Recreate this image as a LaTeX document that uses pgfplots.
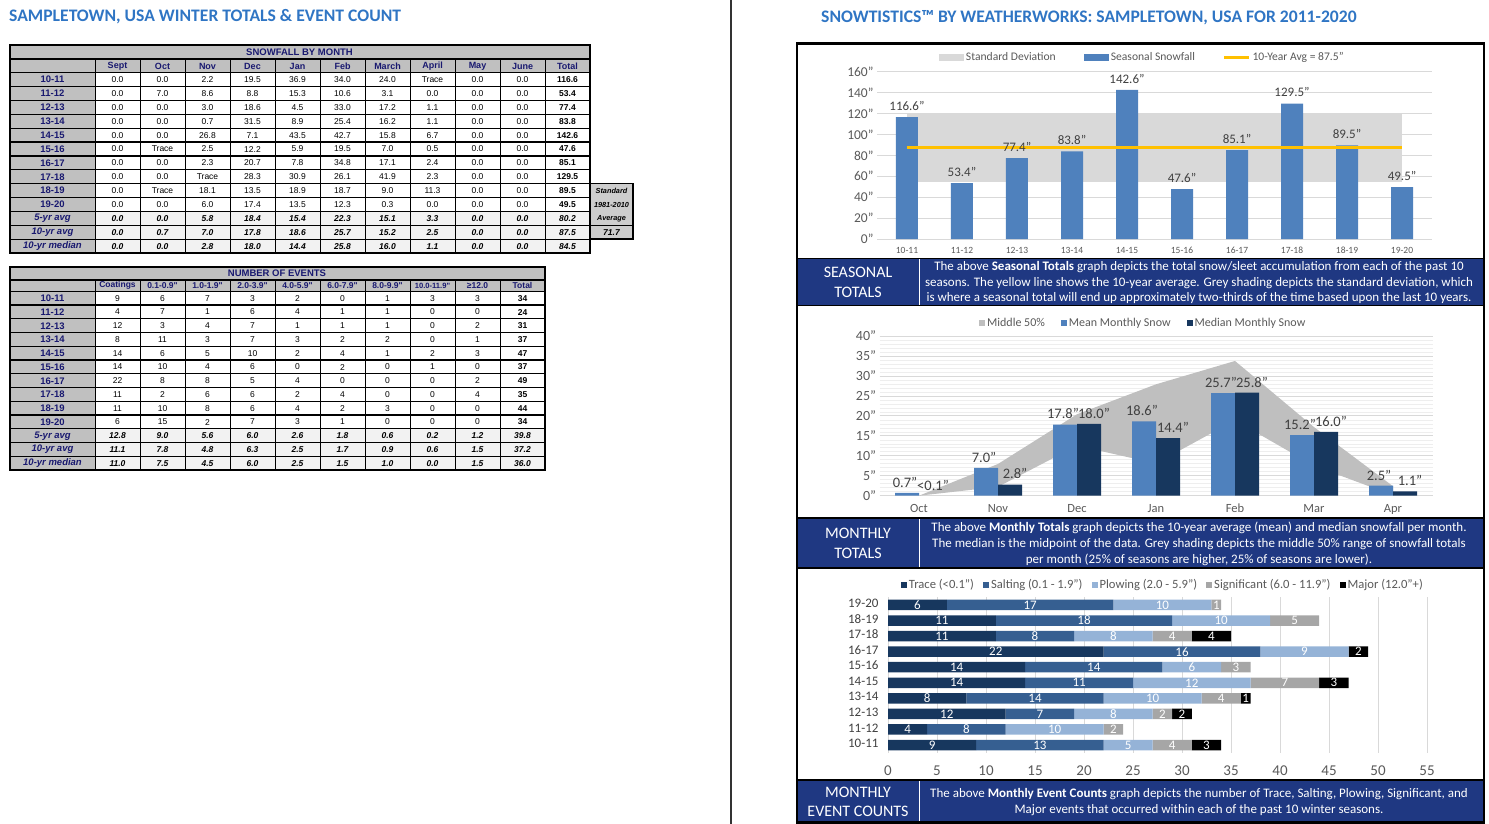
\documentclass[border=0pt]{standalone}
\usepackage{pgfplots}
\pgfplotsset{compat=1.18}
\usepackage{pgfplotstable}
\usepackage{fontspec}
\setmainfont{Carlito}
\newfontfamily\tabfont{Liberation Sans}
\pgfkeys{/pgf/number format/assume math mode=true}

\definecolor{navyt}{RGB}{25,25,112}
\definecolor{lblgray}{RGB}{192,192,192}
\definecolor{sumgray}{RGB}{242,242,242}
\definecolor{stdbox}{RGB}{205,205,205}
\definecolor{titleblue}{RGB}{47,117,196}
\definecolor{barblue}{RGB}{79,129,189}
\definecolor{medblue}{RGB}{23,55,94}
\definecolor{saltblue}{RGB}{54,95,145}
\definecolor{plowblue}{RGB}{149,179,215}
\definecolor{siggray}{RGB}{166,166,166}
\definecolor{bandgray}{RGB}{217,217,217}
\definecolor{areagray}{RGB}{191,191,191}
\definecolor{avgyellow}{RGB}{255,192,0}
\definecolor{gridc}{RGB}{217,217,217}
\definecolor{tickc}{RGB}{89,89,89}
\definecolor{labc}{RGB}{64,64,64}
\definecolor{banner}{RGB}{31,56,130}

\newcommand{\fsz}[1]{\fontsize{#1}{#1}\selectfont}

\pgfplotstableread{
i season total
0 10-11 116.6
1 11-12 53.4
2 12-13 77.4
3 13-14 83.8
4 14-15 142.6
5 15-16 47.6
6 16-17 85.1
7 17-18 129.5
8 18-19 89.5
9 19-20 49.5
}\seasontable

\pgfplotstableread{
i month mean median
0 Oct 0.7 0
1 Nov 7.0 2.8
2 Dec 17.8 18.0
3 Jan 18.6 14.4
4 Feb 25.7 25.8
5 Mar 15.2 16.0
6 Apr 2.5 1.1
}\monthtable

\pgfplotstableread{
i season trace salting plowing significant major
0 10-11 9 13 5 4 3
1 11-12 4 8 10 2 0
2 12-13 12 7 8 2 2
3 13-14 8 14 10 4 1
4 14-15 14 11 12 7 3
5 15-16 14 14 6 3 0
6 16-17 22 16 9 0 2
7 17-18 11 8 8 4 4
8 18-19 11 18 10 5 0
9 19-20 6 17 10 1 0
}\eventtable

\pgfplotsset{
  typeset ticklabels with strut,
  sq/.style={legend image code/.code={\fill[#1] (0pt,-3pt) rectangle (6pt,3pt);}},
  wide/.style={legend image code/.code={\fill[#1] (0pt,-3.5pt) rectangle (25pt,3.5pt);}},
  seglab/.style={draw=none, mark=none, point meta=explicit symbolic,
    nodes near coords={\ifnum\pgfplotspointmeta>0 \pgfplotspointmeta\fi},
    nodes near coords style={anchor=center, inner sep=0pt, text=white, font=\fsz{13}}},
}

\begin{document}
\begin{tikzpicture}
\path[use as bounding box] (0pt,0pt) rectangle (1489pt,-824pt);

\begin{scope}[x=1pt,y=-1pt]
% ---------- titles and divider
\node[anchor=west, inner sep=0pt, text=titleblue, font=\bfseries\fsz{17.6}] at (9,17) {SAMPLETOWN, USA WINTER TOTALS \& EVENT COUNT};
\node[anchor=west, inner sep=0pt, text=titleblue, font=\bfseries\fsz{17.6}] at (821,18) {SNOWTISTICS™ BY WEATHERWORKS: SAMPLETOWN, USA FOR 2011-2020};
\draw[line width=1.5pt, black!80] (731,0) -- (731,824);

% ---------- table 1
\fill[lblgray] (10,45) rectangle (590,72.7);
\node[inner sep=0pt, text=navyt, font=\tabfont\bfseries\fsz{9.5}] at (299.5,52) {SNOWFALL BY MONTH};
\foreach \h [count=\k from 0] in {Sept,Oct,Nov,Dec,Jan,Feb,March,April,May,June,Total}
  \node[inner sep=0pt, text=navyt, font=\tabfont\bfseries\fsz{9}] at ({117.5+45*\k},66) {\h};
\foreach \lab/\vals [count=\r from 0] in {
 10-11/{0.0,0.0,2.2,19.5,36.9,34.0,24.0,Trace,0.0,0.0,116.6},
 11-12/{0.0,7.0,8.6,8.8,15.3,10.6,3.1,0.0,0.0,0.0,53.4},
 12-13/{0.0,0.0,3.0,18.6,4.5,33.0,17.2,1.1,0.0,0.0,77.4},
 13-14/{0.0,0.0,0.7,31.5,8.9,25.4,16.2,1.1,0.0,0.0,83.8},
 14-15/{0.0,0.0,26.8,7.1,43.5,42.7,15.8,6.7,0.0,0.0,142.6},
 15-16/{0.0,Trace,2.5,12.2,5.9,19.5,7.0,0.5,0.0,0.0,47.6},
 16-17/{0.0,0.0,2.3,20.7,7.8,34.8,17.1,2.4,0.0,0.0,85.1},
 17-18/{0.0,0.0,Trace,28.3,30.9,26.1,41.9,2.3,0.0,0.0,129.5},
 18-19/{0.0,Trace,18.1,13.5,18.9,18.7,9.0,11.3,0.0,0.0,89.5},
 19-20/{0.0,0.0,6.0,17.4,13.5,12.3,0.3,0.0,0.0,0.0,49.5},
 5-yr avg/{0.0,0.0,5.8,18.4,15.4,22.3,15.1,3.3,0.0,0.0,80.2},
 10-yr avg/{0.0,0.7,7.0,17.8,18.6,25.7,15.2,2.5,0.0,0.0,87.5},
 10-yr median/{0.0,0.0,2.8,18.0,14.4,25.8,16.0,1.1,0.0,0.0,84.5}}
{
  \pgfmathsetmacro{\yt}{72.7+13.87*\r}
  \ifnum\r<10 \def\bg{white}\def\fs{}\else\def\bg{sumgray}\def\fs{\bfseries\itshape}\fi
  \fill[lblgray] (10,\yt) rectangle (95,\yt+13.87);
  \fill[\bg] (95,\yt) rectangle (590,\yt+13.87);
  \node[inner sep=0pt, text=navyt, font=\tabfont\bfseries\fsz{9.5}] at (52.5,\yt+7) {\fs\lab};
  \foreach \v [count=\c from 0] in \vals {
    \node[inner sep=0pt, font=\tabfont\fsz{8.5}] at ({117.5+45*\c},\yt+7) {\fs\ifnum\c=10 \bfseries\fi\v};
  }
}
\foreach \k in {0,...,13} \draw[line width=1.2pt] (10,{72.7+13.87*\k}) -- (590,{72.7+13.87*\k});
\draw[line width=1.2pt] (10,59) -- (590,59);
\foreach \xx in {95,140,...,545} \draw[line width=0.8pt] (\xx,59) -- (\xx,253);
\draw[line width=1.6pt] (10,45) rectangle (590,253);
% standard box
\fill[stdbox] (590,183.66) rectangle (633,239.14);
\draw[line width=1pt] (590,225.27) -- (633,225.27);
\draw[line width=1.4pt] (590,183.66) rectangle (633,239.14);
\node[inner sep=0pt, font=\tabfont\bfseries\itshape\fsz{7.3}] at (611.5,190.6) {Standard};
\node[inner sep=0pt, font=\tabfont\bfseries\itshape\fsz{7.3}] at (611.5,204.5) {1981-2010};
\node[inner sep=0pt, font=\tabfont\bfseries\itshape\fsz{7.3}] at (611.5,218.4) {Average};
\node[inner sep=0pt, font=\tabfont\bfseries\itshape\fsz{8.5}] at (611.5,232.2) {71.7};

% ---------- table 2
\fill[lblgray] (10,267) rectangle (545,291.3);
\node[inner sep=0pt, text=navyt, font=\tabfont\bfseries\fsz{9.5}] at (277,273.5) {NUMBER OF EVENTS};
\foreach \h [count=\k from 0] in {Coatings,0.1-0.9",1.0-1.9",2.0-3.9",4.0-5.9",6.0-7.9",8.0-9.9",{\fsz{7.6}10.0-11.9"},≥12.0,Total}
  \node[inner sep=0pt, text=navyt, font=\tabfont\bfseries\fsz{8.5}] at ({117.5+45*\k},285.6) {\h};
\foreach \lab/\vals [count=\r from 0] in {
 10-11/{9,6,7,3,2,0,1,3,3,34},
 11-12/{4,7,1,6,4,1,1,0,0,24},
 12-13/{12,3,4,7,1,1,1,0,2,31},
 13-14/{8,11,3,7,3,2,2,0,1,37},
 14-15/{14,6,5,10,2,4,1,2,3,47},
 15-16/{14,10,4,6,0,2,0,1,0,37},
 16-17/{22,8,8,5,4,0,0,0,2,49},
 17-18/{11,2,6,6,2,4,0,0,4,35},
 18-19/{11,10,8,6,4,2,3,0,0,44},
 19-20/{6,15,2,7,3,1,0,0,0,34},
 5-yr avg/{12.8,9.0,5.6,6.0,2.6,1.8,0.6,0.2,1.2,39.8},
 10-yr avg/{11.1,7.8,4.8,6.3,2.5,1.7,0.9,0.6,1.5,37.2},
 10-yr median/{11.0,7.5,4.5,6.0,2.5,1.5,1.0,0.0,1.5,36.0}}
{
  \pgfmathsetmacro{\yt}{291.3+13.75*\r}
  \ifnum\r<10 \def\bg{white}\def\fs{}\else\def\bg{sumgray}\def\fs{\bfseries\itshape}\fi
  \fill[lblgray] (10,\yt) rectangle (95,\yt+13.75);
  \fill[\bg] (95,\yt) rectangle (545,\yt+13.75);
  \node[inner sep=0pt, text=navyt, font=\tabfont\bfseries\fsz{9.5}] at (52.5,\yt+7) {\fs\lab};
  \foreach \v [count=\c from 0] in \vals {
    \node[inner sep=0pt, font=\tabfont\fsz{8.5}] at ({117.5+45*\c},\yt+7) {\fs\ifnum\c=9 \bfseries\fi\v};
  }
}
\foreach \k in {0,...,13} \draw[line width=1.2pt] (10,{291.3+13.75*\k}) -- (545,{291.3+13.75*\k});
\draw[line width=1.2pt] (10,280) -- (545,280);
\foreach \xx in {95,140,...,500} \draw[line width=0.8pt] (\xx,280) -- (\xx,470);
\draw[line width=1.6pt] (10,267) rectangle (545,470);

% ---------- right panel banners
\fill[banner] (798,258.5) rectangle (1483,305.5);
\fill[banner] (798,518) rectangle (1483,568);
\fill[banner] (798,780) rectangle (1483,822);
\foreach \a/\b in {258.5/305.5,518/568,780/822} {
  \draw[white, line width=1.5pt] (919.5,\a) -- (919.5,\b);
  \draw[black, line width=1.3pt] (797,\a) -- (1484,\a);
  \draw[black, line width=1.3pt] (797,\b) -- (1484,\b);
}
\node[text=white, inner sep=0pt, align=center, font=\fontsize{16}{20}\selectfont] at (858,282) {SEASONAL\\TOTALS};
\node[text=white, inner sep=0pt, align=center, font=\fontsize{16}{20}\selectfont] at (858,543.5) {MONTHLY\\TOTALS};
\node[text=white, inner sep=0pt, align=center, font=\fontsize{16}{19}\selectfont] at (858,801.5) {MONTHLY\\EVENT COUNTS};
\node[text=white, inner sep=0pt, align=center, font=\fontsize{13}{15.5}\selectfont] at (1199,282.5)
 {The above \textbf{Seasonal Totals} graph depicts the total snow/sleet accumulation from each of the past 10\\
  seasons. The yellow line shows the 10-year average. Grey shading depicts the standard deviation, which\\
  is where a seasonal total will end up approximately two-thirds of the time based upon the last 10 years.};
\node[text=white, inner sep=0pt, align=center, font=\fontsize{13}{15.8}\selectfont] at (1199,544)
 {The above \textbf{Monthly Totals} graph depicts the 10-year average (mean) and median snowfall per month.\\
  The median is the midpoint of the data. Grey shading depicts the middle 50\% range of snowfall totals\\
  per month (25\% of seasons are higher, 25\% of seasons are lower).};
\node[text=white, inner sep=0pt, align=center, font=\fontsize{13}{16}\selectfont] at (1199,802)
 {The above \textbf{Monthly Event Counts} graph depicts the number of Trace, Salting, Plowing, Significant, and\\
  Major events that occurred within each of the past 10 winter seasons.};
\draw[line width=2.5pt] (797,43.5) rectangle (1484,822.5);
\end{scope}

% ---------- chart 1: seasonal totals
\begin{axis}[
 at={(877pt,-239pt)}, anchor=south west, scale only axis,
 width=555pt, height=167.3pt,
 xmin=-0.545, xmax=9.545, ymin=0, ymax=160,
 ytick={0,20,...,160}, yticklabel={\pgfmathprintnumber{\tick}"},
 xtick={0,...,9}, xticklabels from table={\seasontable}{season},
 axis line style={draw=none}, major tick length=0pt,
 ymajorgrids, grid style={gridc, line width=0.75pt},
 yticklabel style={font=\fsz{13.5}, text=tickc},
 xticklabel style={font=\fsz{9.5}, text=tickc, yshift=-4pt},
 clip=false, legend columns=-1,
 legend style={at={(0.478,1)}, anchor=south, yshift=5pt, draw=none, fill=none, font=\fsz{11.6}, text=tickc,
   /tikz/every even column/.append style={column sep=26pt}},
]
\addplot[fill=bandgray, draw=none, wide=bandgray] coordinates {(0,54.2) (9,54.2) (9,120.8) (0,120.8)} -- cycle;
\addlegendentry{Standard Deviation}
\addplot[ybar, bar width=22pt, bar shift=0pt, fill=barblue, draw=none, wide=barblue,
  nodes near coords={\pgfmathprintnumber[fixed,fixed zerofill,precision=1]{\pgfplotspointmeta}"},
  nodes near coords style={font=\fsz{13}, text=labc, yshift=3pt}]
  table[x=i, y=total] {\seasontable};
\addlegendentry{Seasonal Snowfall}
\addplot[avgyellow, line width=3pt, legend image code/.code={\draw[avgyellow, line width=2.5pt] (0pt,0pt) -- (25pt,0pt);}]
  coordinates {(0,87.5) (9,87.5)};
\addlegendentry{10-Year Avg = 87.5"}
\end{axis}

% ---------- chart 2: monthly totals
\begin{axis}[
 at={(879.5pt,-495.7pt)}, anchor=south west, scale only axis,
 width=553pt, height=159.7pt,
 xmin=-0.5, xmax=6.5, ymin=0, ymax=40,
 ytick={0,5,...,40}, minor y tick num=4,
 yticklabel={\pgfmathprintnumber{\tick}"},
 xtick={0,...,6}, xticklabels from table={\monthtable}{month},
 axis line style={draw=none}, major tick length=0pt, minor tick length=0pt,
 ymajorgrids, yminorgrids,
 major grid style={gridc, line width=0.75pt}, minor grid style={gridc!45, line width=0.6pt},
 yticklabel style={font=\fsz{14}, text=tickc},
 xticklabel style={font=\fsz{12.5}, text=tickc, yshift=-5pt},
 clip=false, legend columns=-1,
 legend style={at={(0.477,1)}, anchor=south, yshift=4pt, draw=none, fill=none, font=\fsz{12}, text=tickc,
   /tikz/every even column/.append style={column sep=14pt}},
]
% middle 50% (25th to 75th percentile) band: upper edge then lower edge
\addplot[fill=areagray, draw=none, sq=areagray] coordinates {
  (0,0) (1,7.95) (2,20.4) (3,27.9) (4,33.75) (5,17.175) (6,2.375)
  (6,0.125) (5,7.5) (4,18.9) (3,8.075) (2,12.525) (1,2.225) (0,0)} -- cycle;
\addlegendentry{Middle 50\%}
\addplot[ybar, bar width=24pt, bar shift=-12pt, fill=barblue, draw=none, sq=barblue,
  nodes near coords={\pgfmathprintnumber[fixed,fixed zerofill,precision=1]{\pgfplotspointmeta}"},
  nodes near coords style={font=\fsz{14.5}, text=labc, yshift=2pt, xshift=-14pt}]
  table[x=i, y=mean] {\monthtable};
\addlegendentry{Mean Monthly Snow}
\addplot[ybar, bar width=24pt, bar shift=12pt, fill=medblue, draw=none, sq=medblue,
  skip coords between index={0}{1},
  nodes near coords={\pgfmathprintnumber[fixed,fixed zerofill,precision=1]{\pgfplotspointmeta}"},
  nodes near coords style={font=\fsz{14.5}, text=labc, yshift=2pt, xshift=17pt}]
  table[x=i, y=median] {\monthtable};
\addlegendentry{Median Monthly Snow}
\addplot[ybar, bar width=24pt, bar shift=12pt, fill=none, draw=none, forget plot,
  skip coords between index={1}{7},
  nodes near coords={<0.1"},
  nodes near coords style={font=\fsz{14.5}, text=labc, yshift=2pt, xshift=14pt}]
  table[x=i, y=median] {\monthtable};
\end{axis}

% ---------- chart 3: event counts (bars)
\begin{axis}[
 at={(888pt,-752.8pt)}, anchor=south west, scale only axis,
 width=539pt, height=155.6pt,
 xbar stacked, bar width=10.5pt,
 xmin=0, xmax=55, ymin=-0.5, ymax=9.5,
 xtick={0,5,...,55}, ytick={0,...,9}, yticklabels from table={\eventtable}{season},
 axis line style={draw=none}, major tick length=0pt,
 xmajorgrids, grid style={gridc, line width=0.75pt},
 xticklabel style={font=\fsz{15}, text=tickc, yshift=-9pt},
 yticklabel style={font=\fsz{13}, text=labc, xshift=-6pt},
 clip=false, legend columns=-1,
 legend style={at={(0.51,1)}, anchor=south, yshift=3pt, draw=none, fill=none, font=\fsz{12.6}, text=tickc,
   /tikz/every even column/.append style={column sep=7pt}},
]
\addplot[draw=none, fill=medblue, sq=medblue] table[x=trace, y=i] {\eventtable};
\addlegendentry{Trace (<0.1")}
\addplot[draw=none, fill=saltblue, sq=saltblue] table[x=salting, y=i] {\eventtable};
\addlegendentry{Salting (0.1 - 1.9")}
\addplot[draw=none, fill=plowblue, sq=plowblue] table[x=plowing, y=i] {\eventtable};
\addlegendentry{Plowing (2.0 - 5.9")}
\addplot[draw=none, fill=siggray, sq=siggray] table[x=significant, y=i] {\eventtable};
\addlegendentry{Significant (6.0 - 11.9")}
\addplot[draw=none, fill=black, sq=black] table[x=major, y=i] {\eventtable};
\addlegendentry{Major (12.0"+)}
\end{axis}

% ---------- chart 3: segment labels (same geometry, hidden axis)
\begin{axis}[
 at={(888pt,-752.8pt)}, anchor=south west, scale only axis,
 width=539pt, height=155.6pt,
 xmin=0, xmax=55, ymin=-0.5, ymax=9.5, hide axis, clip=false,
]
\addplot[seglab] table[x expr=\thisrow{trace}/2, y=i, meta=trace] {\eventtable};
\addplot[seglab] table[x expr=\thisrow{trace}+\thisrow{salting}/2, y=i, meta=salting] {\eventtable};
\addplot[seglab] table[x expr=\thisrow{trace}+\thisrow{salting}+\thisrow{plowing}/2, y=i, meta=plowing] {\eventtable};
\addplot[seglab] table[x expr=\thisrow{trace}+\thisrow{salting}+\thisrow{plowing}+\thisrow{significant}/2, y=i, meta=significant] {\eventtable};
\addplot[seglab] table[x expr=\thisrow{trace}+\thisrow{salting}+\thisrow{plowing}+\thisrow{significant}+\thisrow{major}/2, y=i, meta=major] {\eventtable};
\end{axis}
\end{tikzpicture}
\end{document}
